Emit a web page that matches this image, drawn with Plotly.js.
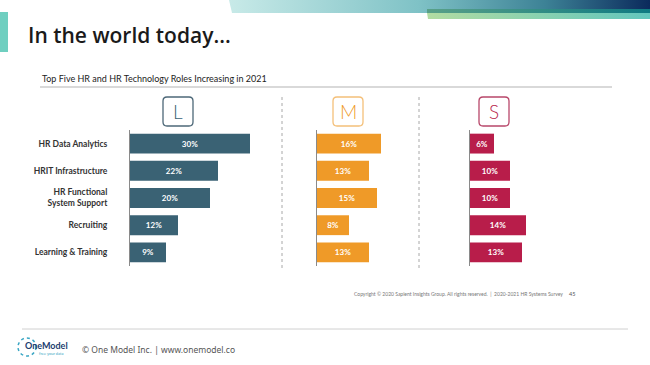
<!DOCTYPE html>
<html>
<head>
<meta charset="utf-8">
<script src="https://cdn.plot.ly/plotly-3.0.1.min.js"></script>
<style>html,body{margin:0;padding:0;background:#fff;}#chart{width:650px;height:365px;}</style>
</head>
<body>
<div id="chart"></div>
<script>
// ---- data ----
const roles = ["HR Data Analytics", "HRIT Infrastructure", "HR Functional<br>System Support", "Recruiting", "Learning & Training"];
const largeValues = [30, 22, 20, 12, 9];
const mediumValues = [16, 13, 15, 8, 13];
const smallValues = [6, 10, 10, 14, 13];
const groupLabels = ["L", "M", "S"];
const groupColors = ["#3a6274", "#ef9a28", "#b81d4a"];
const boxColors = ["#4d6878", "#f4c07a", "#b8476a"];

// ---- helpers (pixel -> paper) ----
const W = 650, H = 365;
const px = x => x / W;
const py = y => 1 - y / H;

const series = [largeValues, mediumValues, smallValues];
const domainsX = [[130, 270], [317, 417], [470, 570]];
const ranges = [[0, 35], [0, 25], [0, 25]];

const traces = series.map((vals, i) => ({
  type: 'bar',
  orientation: 'h',
  x: vals,
  y: roles,
  xaxis: i === 0 ? 'x' : 'x' + (i + 1),
  yaxis: i === 0 ? 'y' : 'y' + (i + 1),
  marker: {color: groupColors[i], line: {width: 0}},
  texttemplate: '%{x}%',
  textposition: 'inside',
  insidetextanchor: 'middle',
  textangle: 0,
  textfont: {family: 'Lato, sans-serif', size: 8, color: '#ffffff', weight: 'bold'},
  hoverinfo: 'skip',
  showlegend: false
}));

const layout = {
  width: W, height: H,
  margin: {l: 0, r: 0, t: 0, b: 0},
  paper_bgcolor: '#ffffff',
  plot_bgcolor: 'rgba(0,0,0,0)',
  bargap: 0.27,
  showlegend: false,
  shapes: [],
  annotations: [],
  images: []
};

domainsX.forEach((d, i) => {
  const sx = i === 0 ? '' : String(i + 1);
  layout['xaxis' + sx] = {
    domain: [px(d[0]), px(d[1])],
    range: ranges[i],
    visible: false,
    fixedrange: true,
    anchor: 'y' + sx
  };
  layout['yaxis' + sx] = {
    domain: [py(266), py(130)],
    anchor: 'x' + sx,
    type: 'category',
    categoryorder: 'array',
    categoryarray: roles,
    autorange: 'reversed',
    showline: true,
    linecolor: '#8a8a8a',
    linewidth: 1,
    showgrid: false,
    zeroline: false,
    ticks: '',
    showticklabels: i === 0,
    ticklabelstandoff: 20,
    tickfont: {family: 'Lato, sans-serif', size: 8.5, color: '#333333', weight: 'bold'},
    fixedrange: true
  };
});

// Header gradient banner via SVG data URI
const bannerSvg = `<svg xmlns="http://www.w3.org/2000/svg" width="421" height="19" viewBox="0 0 421 19">
<defs>
<linearGradient id="g1" x1="0" x2="1" y1="0" y2="0">
<stop offset="0" stop-color="#c8eae8"/><stop offset="0.45" stop-color="#7fc2c6"/><stop offset="0.75" stop-color="#3d8296"/><stop offset="1" stop-color="#0b2a5c"/>
</linearGradient>
<linearGradient id="g2" x1="0" x2="1" y1="0" y2="0">
<stop offset="0" stop-color="#58a088"/><stop offset="1" stop-color="#0f7a82"/>
</linearGradient>
<linearGradient id="g3" x1="0" x2="1" y1="0" y2="0">
<stop offset="0" stop-color="#b2dca2"/><stop offset="1" stop-color="#62c6bd"/>
</linearGradient>
</defs>
<polygon points="0,0 421,0 421,13 3,13" fill="url(#g1)"/>
<polygon points="198,9 421,9 421,13 198,13" fill="url(#g2)"/>
<polygon points="198,13 421,13 421,19 199,19" fill="url(#g3)"/>
</svg>`;
layout.images.push({
  source: 'data:image/svg+xml;charset=utf-8,' + encodeURIComponent(bannerSvg),
  xref: 'paper', yref: 'paper', x: px(229), y: py(0), sizex: px(650) - px(229), sizey: 19 / H,
  xanchor: 'left', yanchor: 'top', sizing: 'stretch', layer: 'below'
});

// teal block at left
layout.shapes.push({type: 'rect', xref: 'paper', yref: 'paper', x0: px(0), x1: px(8), y0: py(52), y1: py(12), fillcolor: '#6fcfc0', line: {width: 0}});

// main title
layout.annotations.push({
  text: 'In the world today...', xref: 'paper', yref: 'paper', x: px(26), y: py(35),
  xanchor: 'left', yanchor: 'middle', showarrow: false,
  font: {family: 'Open Sans, sans-serif', size: 21, color: '#1a1a1a', weight: 600}
});

// chart subtitle
layout.annotations.push({
  text: 'Top Five HR and HR Technology Roles Increasing in 2021', xref: 'paper', yref: 'paper', x: px(40), y: py(78),
  xanchor: 'left', yanchor: 'middle', showarrow: false,
  font: {family: 'Lato, sans-serif', size: 9, color: '#222222'}
});
layout.shapes.push({type: 'line', xref: 'paper', yref: 'paper', x0: px(40), x1: px(612), y0: py(87), y1: py(87), line: {color: '#cccccc', width: 1.5}});

// dotted separators
[282, 419].forEach(x => layout.shapes.push({type: 'line', xref: 'paper', yref: 'paper', x0: px(x), x1: px(x), y0: py(97), y1: py(268), line: {color: '#a8a8a8', width: 1, dash: 'dot'}}));

// header boxes with rounded corners
function roundRect(x0, y0, x1, y1, r) {
  const X = v => px(v).toFixed(5), Y = v => py(v).toFixed(5);
  return `M${X(x0 + r)},${Y(y0)} L${X(x1 - r)},${Y(y0)} Q${X(x1)},${Y(y0)} ${X(x1)},${Y(y0 + r)} ` +
         `L${X(x1)},${Y(y1 - r)} Q${X(x1)},${Y(y1)} ${X(x1 - r)},${Y(y1)} L${X(x0 + r)},${Y(y1)} ` +
         `Q${X(x0)},${Y(y1)} ${X(x0)},${Y(y1 - r)} L${X(x0)},${Y(y0 + r)} Q${X(x0)},${Y(y0)} ${X(x0 + r)},${Y(y0)} Z`;
}
const boxX = [163, 333, 479];
groupLabels.forEach((lab, i) => {
  layout.shapes.push({type: 'path', xref: 'paper', yref: 'paper', path: roundRect(boxX[i], 97, boxX[i] + 30, 126, 4), line: {color: boxColors[i], width: 1.3}, fillcolor: 'rgba(0,0,0,0)'});
  layout.annotations.push({text: lab, xref: 'paper', yref: 'paper', x: px(boxX[i] + 15), y: py(111.5), xanchor: 'center', yanchor: 'middle', showarrow: false,
    font: {family: 'Lato, sans-serif', size: 19, color: groupColors[i], weight: 300}});
});

// copyright
layout.annotations.push({
  text: 'Copyright © 2020 Sapient Insights Group. All rights reserved.  |  2020-2021 HR Systems Survey', xref: 'paper', yref: 'paper', x: px(352), y: py(294),
  xanchor: 'left', yanchor: 'middle', showarrow: false,
  font: {family: 'Lato, sans-serif', size: 5, color: '#777777'}
});
layout.annotations.push({
  text: '45', xref: 'paper', yref: 'paper', x: px(572), y: py(294), xanchor: 'center', yanchor: 'middle', showarrow: false,
  font: {family: 'Lato, sans-serif', size: 5.5, color: '#555555'}
});

// footer line
layout.shapes.push({type: 'line', xref: 'paper', yref: 'paper', x0: px(22), x1: px(628), y0: py(329), y1: py(329), line: {color: '#d0d0d0', width: 1}});

// logo: dotted ring + text
layout.shapes.push({type: 'circle', xref: 'paper', yref: 'paper', x0: px(18), x1: px(36), y0: py(356), y1: py(338), line: {color: '#3aa6c4', width: 1.5, dash: 'dot'}});
layout.annotations.push({
  text: 'OneModel', xref: 'paper', yref: 'paper', x: px(23), y: py(345), xanchor: 'left', yanchor: 'middle', showarrow: false,
  font: {family: 'Lato, sans-serif', size: 9, color: '#1c3d6e', weight: 'bold'}
});
layout.annotations.push({
  text: 'free your data', xref: 'paper', yref: 'paper', x: px(65), y: py(353), xanchor: 'right', yanchor: 'middle', showarrow: false,
  font: {family: 'Lato, sans-serif', size: 4, color: '#3aa6c4'}
});
layout.annotations.push({
  text: '© One Model Inc. | www.onemodel.co', xref: 'paper', yref: 'paper', x: px(80), y: py(349), xanchor: 'left', yanchor: 'middle', showarrow: false,
  font: {family: 'Noto Sans, sans-serif', size: 8.5, color: '#555555'}
});

Plotly.newPlot('chart', traces, layout, {displayModeBar: false, staticPlot: true});
</script>
</body>
</html>
